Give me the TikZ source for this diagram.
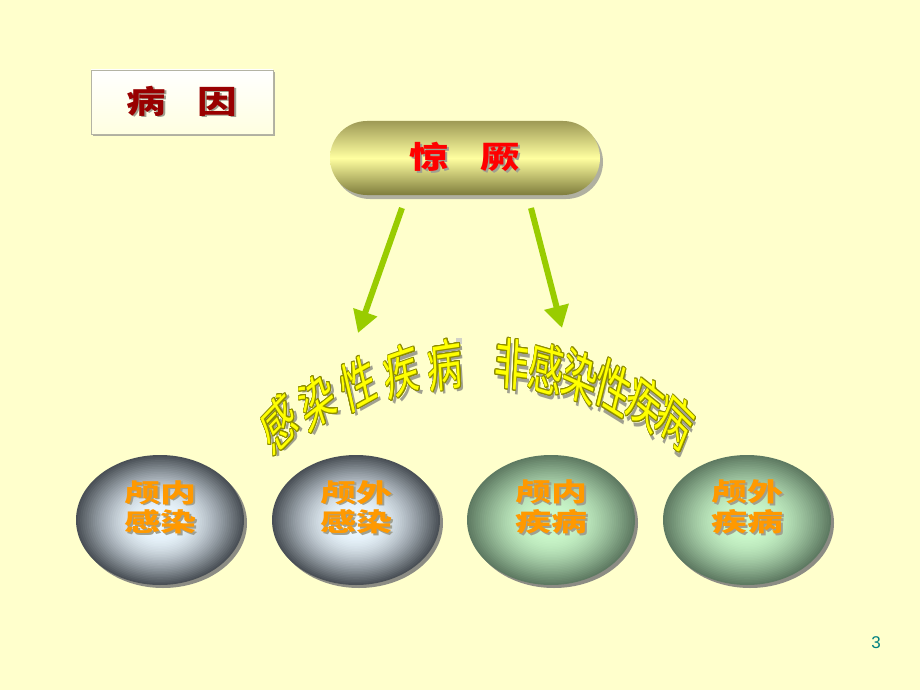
\documentclass[tikz,border=0pt]{standalone}
\usepackage{fontspec}
\usepackage{graphicx}
\usepackage[copies]{contour}
\usetikzlibrary{arrows.meta,shapes.geometric,shadows}
\newfontfamily\cjk{Noto Sans CJK SC}
\newfontfamily\pagefont{Liberation Sans}
\definecolor{slide}{HTML}{FFFFCC}
\definecolor{causered}{HTML}{990000}
\definecolor{pillred}{HTML}{FF0000}
\definecolor{pilltop}{HTML}{9E9A56}
\definecolor{pillmid}{HTML}{FFFFA0}
\definecolor{pillbottom}{HTML}{7E7C3C}
\definecolor{arrowgreen}{HTML}{99CC00}
\definecolor{arcyellow}{HTML}{FFFF00}
\definecolor{arcolive}{HTML}{8C8C00}
\definecolor{ballorange}{HTML}{FF9900}
\definecolor{textshadow}{HTML}{A0A090}
\definecolor{boxedge}{HTML}{B4B4A4}
\definecolor{boxshadow}{HTML}{B0B0A0}
\definecolor{ballshadow}{HTML}{8C8C84}
\definecolor{pagenum}{HTML}{008080}
\definecolor{graylight}{HTML}{EAF6FE}
\definecolor{graydark}{HTML}{4A5056}
\definecolor{greenlight}{HTML}{CAF8CA}
\definecolor{greendark}{HTML}{5E7A62}
\newcommand{\shadowtext}[2]{\leavevmode\rlap{\kern1.8pt\raisebox{-1.8pt}{\textcolor{#1}{#2}}}#2}
\newcommand{\archchar}[1]{\leavevmode\rlap{\kern3pt\raisebox{-3pt}{\textcolor{textshadow}{#1}}}\contour{arcolive}{#1}}
\contourlength{0.7pt}
\tikzset{
  causebox/.style={draw=boxedge, line width=0.8pt, top color=white, bottom color=slide!60!white,
    minimum width=182pt, minimum height=64pt, inner sep=0pt, text=causered,
    font=\cjk\bfseries\fontsize{36}{36}\selectfont,
    drop shadow={shadow xshift=2pt, shadow yshift=-2pt, fill=boxshadow, opacity=1}},
  pill/.style={rectangle, rounded corners=37pt, top color=pilltop, bottom color=pillbottom, middle color=pillmid,
    minimum width=270pt, minimum height=74pt, inner sep=0pt, text=pillred,
    font=\cjk\bfseries\fontsize{36}{36}\selectfont,
    drop shadow={shadow xshift=3pt, shadow yshift=-4pt, fill=boxshadow, opacity=1}},
  greenarrow/.style={draw=arrowgreen, line width=6pt, -{Triangle[width=24pt,length=22pt]}},
  archtext/.style={text=arcyellow, inner sep=0pt, xscale=0.92, yscale=1.45,
    font=\cjk\fontsize{38}{38}\selectfont},
  ball/.style 2 args={ellipse, minimum width=168pt, minimum height=130pt, inner sep=0pt, fill=#2,
    drop shadow={shadow xshift=3pt, shadow yshift=-3pt, fill=ballshadow, opacity=1},
    path picture={
      \foreach \k in {1,...,40}{
        \pgfmathsetmacro\mixp{100*sin(min(90,2.6*\k))}
        \fill[#1!\mixp!#2] ([yshift={-3pt*\k/40}]path picture bounding box.center)
          ellipse ({84pt*(1-\k/40)} and {65pt*(1-\k/40)});
      }}},
  grayball/.style={ball={graylight}{graydark}},
  greenball/.style={ball={greenlight}{greendark}},
  balltext/.style={text=ballorange, align=center, inner sep=0pt, xscale=1.2, yscale=0.85,
    font=\cjk\bfseries\fontsize{30}{35}\selectfont},
  pagelab/.style={text=pagenum, font=\pagefont\fontsize{17}{17}\selectfont}
}
\begin{document}
\begin{tikzpicture}[x=1pt, y=-1pt]
  \useasboundingbox (0,0) rectangle (920,690);
  \fill[slide] (0,0) rectangle (920,690);
  \node[causebox] (cause) at (182,102) {\scalebox{1.1}[0.88]{\shadowtext{textshadow}{病\hspace{0.8em}因}}};
  \node[pill] (jingjue) at (465,158) {\scalebox{1.1}[0.85]{\shadowtext{textshadow}{惊\hspace{0.78em}厥}}};
  \coordinate (leftstart) at (402,208);
  \coordinate (lefttip) at (358,333);
  \coordinate (rightstart) at (531,208);
  \coordinate (righttip) at (562,328);
  \draw[greenarrow] (leftstart) -- (lefttip);
  \draw[greenarrow] (rightstart) -- (righttip);
  \node[fill=boxedge!60!white, minimum size=6pt, inner sep=0pt] (dot) at (459,341) {};
  \foreach \ch/\ang [count=\i] in {感/-33.5,染/-26.5,性/-19.5,疾/-12.5,病/-5.5}
    \node[archtext, rotate={-1*\ang}] (infect-\i) at ({480+363*sin(\ang)},{728-363*cos(\ang)}) {\archchar{\ch}};
  \foreach \ch/\ang [count=\i] in {非/5,感/10.5,染/16,性/21.5,疾/27,病/32.5}
    \node[archtext, rotate={-1*\ang}] (noninfect-\i) at ({480+363*sin(\ang)},{728-363*cos(\ang)}) {\archchar{\ch}};
  \node[grayball] (ballA) at (160,520) {};
  \node[grayball] (ballB) at (356,520) {};
  \node[greenball] (ballC) at (551,520) {};
  \node[greenball] (ballD) at (747,520) {};
  \node[balltext] (labA) at ([yshift=12pt]ballA.center) {\shadowtext{textshadow}{颅内}\\\shadowtext{textshadow}{感染}};
  \node[balltext] (labB) at ([yshift=12pt]ballB.center) {\shadowtext{textshadow}{颅外}\\\shadowtext{textshadow}{感染}};
  \node[balltext] (labC) at ([yshift=12pt]ballC.center) {\shadowtext{textshadow}{颅内}\\\shadowtext{textshadow}{疾病}};
  \node[balltext] (labD) at ([yshift=12pt]ballD.center) {\shadowtext{textshadow}{颅外}\\\shadowtext{textshadow}{疾病}};
  \node[pagelab] (pageno) at (876,643) {3};
\end{tikzpicture}
\end{document}
